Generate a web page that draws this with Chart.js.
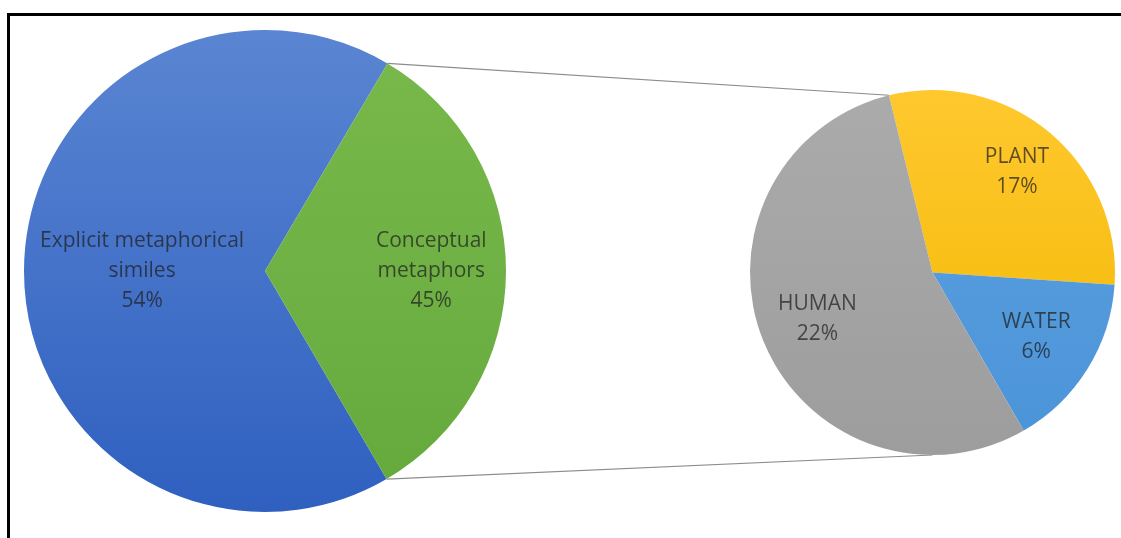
<!DOCTYPE html>
<html>
<head>
<meta charset="utf-8">
<script src="https://cdn.jsdelivr.net/npm/chart.js@4.4.1/dist/chart.umd.min.js"></script>
<style>
  html, body { margin: 0; padding: 0; background: #fff; overflow: hidden; }
  #wrap { position: relative; width: 1121px; height: 538px; }
  #frame {
    position: absolute; left: 7px; top: 13px; width: 1200px; height: 600px;
    border: 3px solid #000; border-bottom: none; border-right: none; box-sizing: border-box;
  }
  canvas { position: absolute; left: 0; top: 0; }
</style>
</head>
<body>
<div id="wrap">
  <div id="frame"></div>
  <canvas id="mainPie" width="1121" height="538"></canvas>
  <canvas id="subPie" width="1121" height="538"></canvas>
</div>
<script>
// Primary pie (Conceptual metaphors is split out into the second pie)
const primaryNames = [['Explicit metaphorical', 'similes'], ['Conceptual', 'metaphors']];
const primaryShares = [66.9, 33.1];       // slice sizes as drawn
const primaryPct = ['54%', '45%'];        // printed labels
const primaryColors = [['#5a85d2', '#2f60c0'], ['#7ab94c', '#64a93c']];

// Secondary pie
const secondaryNames = [['PLANT'], ['WATER'], ['HUMAN']];
const secondaryShares = [29.9, 15.6, 54.5];
const secondaryPct = ['17%', '6%', '22%'];
const secondaryColors = [['#ffc82e', '#f2b700'], ['#5da3e2', '#4b93d8'], ['#ababab', '#9d9d9d']];

const FONT = '21px "Open Sans", "Liberation Sans", sans-serif';
const TEXT_COLOR = 'rgba(30, 30, 30, 0.72)';

function gradientFill(colors) {
    return (ctx) => {
        const area = ctx.chart.chartArea;
        if (!area) return colors[ctx.dataIndex][0];
        const g = ctx.chart.ctx.createLinearGradient(0, area.top, 0, area.bottom);
        g.addColorStop(0, colors[ctx.dataIndex][0]);
        g.addColorStop(1, colors[ctx.dataIndex][1]);
        return g;
    };
}

// draws "name / pct" text inside each slice at a fraction of the radius
const sliceLabels = {
    id: 'sliceLabels',
    afterDatasetsDraw(chart, args, opts) {
        const ctx = chart.ctx;
        const arcs = chart.getDatasetMeta(0).data;
        ctx.save();
        ctx.font = FONT;
        ctx.fillStyle = TEXT_COLOR;
        ctx.textAlign = 'center';
        ctx.textBaseline = 'middle';
        arcs.forEach((arc, i) => {
            const p = arc.getProps(['x', 'y', 'startAngle', 'endAngle', 'outerRadius'], true);
            const mid = (p.startAngle + p.endAngle) / 2;
            const r = p.outerRadius * opts.radius[i];
            const cx = p.x + Math.cos(mid) * r;
            const cy = p.y + Math.sin(mid) * r;
            const lines = opts.names[i].concat([opts.pct[i]]);
            const lh = 30;
            const top = cy - (lines.length - 1) * lh / 2;
            lines.forEach((t, k) => ctx.fillText(t, cx, top + k * lh));
        });
        ctx.restore();
    }
};

const mainChart = new Chart(document.getElementById('mainPie'), {
    type: 'pie',
    data: {
        labels: primaryNames.map(n => n.join(' ')),
        datasets: [{
            data: primaryShares,
            backgroundColor: gradientFill(primaryColors),
            borderWidth: 0
        }]
    },
    options: {
        responsive: false,
        animation: false,
        rotation: 149.7,
        layout: { padding: { left: 24, top: 30, right: 615, bottom: 26 } },
        plugins: {
            legend: { display: false },
            tooltip: { enabled: false },
            sliceLabels: { names: primaryNames, pct: primaryPct, radius: [0.51, 0.69] }
        }
    },
    plugins: [sliceLabels]
});

// connector lines from the split slice to the second pie
const connectors = {
    id: 'connectors',
    beforeDatasetsDraw(chart) {
        const src = mainChart.getDatasetMeta(0).data[1];
        const s = src.getProps(['x', 'y', 'startAngle', 'endAngle', 'outerRadius'], true);
        const dst = chart.getDatasetMeta(0).data[0];
        const d = dst.getProps(['x', 'y', 'startAngle', 'outerRadius'], true);
        const ctx = chart.ctx;
        ctx.save();
        ctx.strokeStyle = '#8c8c8c';
        ctx.lineWidth = 1.2;
        ctx.beginPath();
        ctx.moveTo(s.x + Math.cos(s.startAngle) * s.outerRadius, s.y + Math.sin(s.startAngle) * s.outerRadius);
        ctx.lineTo(d.x + Math.cos(d.startAngle) * d.outerRadius, d.y + Math.sin(d.startAngle) * d.outerRadius);
        ctx.moveTo(s.x + Math.cos(s.endAngle) * s.outerRadius, s.y + Math.sin(s.endAngle) * s.outerRadius);
        ctx.lineTo(d.x, d.y + d.outerRadius);
        ctx.stroke();
        ctx.restore();
    }
};

new Chart(document.getElementById('subPie'), {
    type: 'pie',
    data: {
        labels: secondaryNames.map(n => n.join(' ')),
        datasets: [{
            data: secondaryShares,
            backgroundColor: gradientFill(secondaryColors),
            borderWidth: 0
        }]
    },
    options: {
        responsive: false,
        animation: false,
        rotation: -13.8,
        layout: { padding: { left: 750, top: 90, right: 6, bottom: 83 } },
        plugins: {
            legend: { display: false },
            tooltip: { enabled: false },
            sliceLabels: { names: secondaryNames, pct: secondaryPct, radius: [0.72, 0.67, 0.68] }
        }
    },
    plugins: [connectors, sliceLabels]
});
</script>
</body>
</html>
